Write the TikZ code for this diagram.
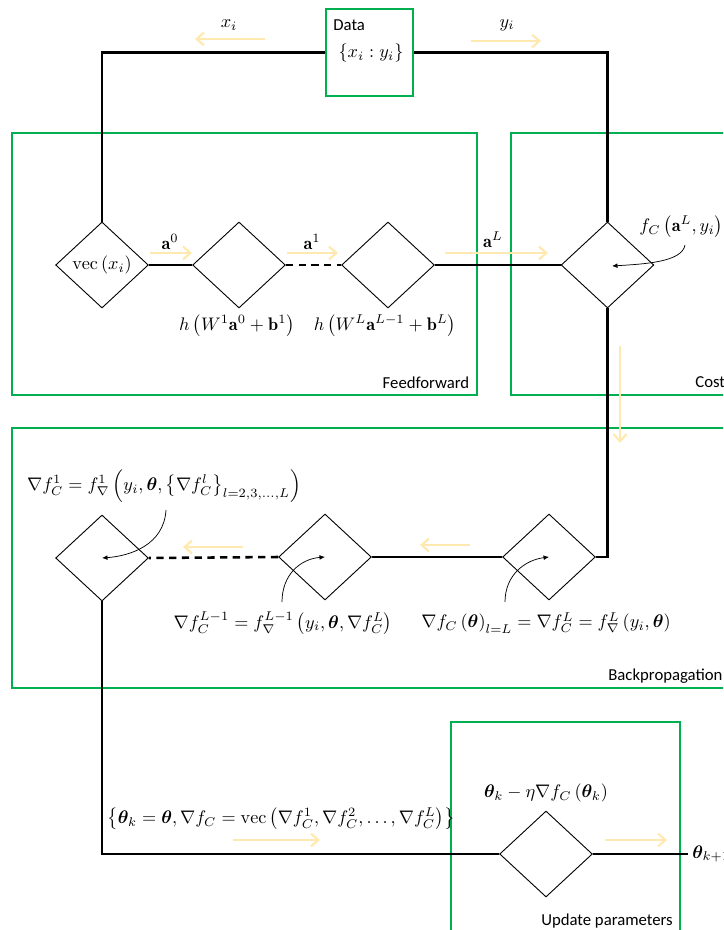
\documentclass[tikz,border=0pt]{standalone}
\usepackage{amsmath,bm}
\usepackage{fontspec}
\newfontfamily\labfont{Carlito}
\usetikzlibrary{shapes.geometric,arrows.meta}
\definecolor{grn}{HTML}{00B050}
\definecolor{ylw}{HTML}{FFE9B0}
\begin{document}
\begin{tikzpicture}[x=0.55pt,y=-0.55pt,
  grpbox/.style={draw=grn,line width=1.1pt},
  flow/.style={line width=1.4pt},
  flowdash/.style={line width=1.4pt,dash pattern=on 4pt off 3pt},
  dia/.style={draw,shape=diamond,minimum width=51pt,minimum height=47.3pt,inner sep=0pt,line width=0.5pt},
  hint/.style={draw=ylw,line width=1.2pt,-{Straight Barb[length=4pt,width=7pt]}},
  callout/.style={-{Latex[length=3pt,width=2.6pt]},line width=0.4pt},
  lbl/.style={font=\labfont\fontsize{9.2}{11}\selectfont,inner sep=0pt},
  mth/.style={inner sep=0pt}]
\useasboundingbox (0,0) rectangle (723,930);
\clip (0,0) rectangle (723,930);
% group frames
\draw[grpbox] (12,133) rectangle (477,395);
\draw[grpbox] (511,133) rectangle (740,395);
\draw[grpbox] (12,428) rectangle (740,688);
\draw[grpbox] (451,722) rectangle (680,945);
\node[lbl] (ffl) at (426,383) {Feedforward};
\node[lbl,anchor=west] (costl) at (695,382) {Cost};
\node[lbl,anchor=west] (bpl) at (608,676) {Backpropagation};
\node[lbl] (upl) at (607,921) {Update parameters};
% data
\node[draw=grn,line width=1.1pt,minimum width=47.8pt,minimum height=47.8pt,inner sep=0pt] (data) at (369.5,52.5) {};
\node[lbl,anchor=west] (datal) at (333,25) {Data};
\node[mth] (datat) at (371,53) {$\left\{x_i : y_i\right\}$};
% feedforward diamonds
\node[dia] (d0) at (102,265) {$\operatorname{vec}\left(x_i\right)$};
\node[dia] (d1) at (239,265) {};
\node[dia] (d2) at (388,265) {};
\node[dia] (dc) at (607.5,265) {};
% backprop diamonds
\node[dia] (b1) at (102,558) {};
\node[dia] (b2) at (325,557) {};
\node[dia] (b3) at (549,557) {};
% update
\node[dia] (u) at (546,854) {};
\coordinate (uend) at (688,854);
% flow lines
\draw[flow] (data.west) -| (d0.north);
\draw[flow] (data.east) -| (dc.north);
\draw[flow] (d0.east) -- (d1.west);
\draw[flowdash] (d1.east) -- (d2.west);
\draw[flow] (d2.east) -- (dc.west);
\draw[flow] (dc.south) |- (b3.east);
\draw[flow] (b3.west) -- (b2.east);
\draw[flowdash] (b2.west) -- (b1.east);
\draw[flow] (b1.south) |- (u.west);
\draw[flow] (u.east) -- (uend);
\node[mth,anchor=west] (thk1) at (692,854) {$\bm{\theta}_{k+1}$};
% yellow hint arrows
\draw[hint] (265,39) -- (195,39);
\draw[hint] (471,41) -- (541,41);
\draw[hint] (150,253) -- (192,253);
\draw[hint] (287,253) -- (338,253);
\draw[hint] (445,253) -- (548,253);
\draw[hint] (620,346) -- (620,443);
\draw[hint] (470,545) -- (420,545);
\draw[hint] (243,547) -- (183,547);
\draw[hint] (233,840) -- (320,840);
\draw[hint] (605,840) -- (667,840);
% labels
\node[mth] (xil) at (229,25) {$x_i$};
\node[mth] (yil) at (507,25) {$y_i$};
\node[mth] (a0l) at (170,242) {$\mathbf{a}^0$};
\node[mth] (a1l) at (312,242) {$\mathbf{a}^1$};
\node[mth] (aLl) at (493,240) {$\mathbf{a}^L$};
\node[mth] (h1l) at (237,326) {$h\,\bigl(W^1\mathbf{a}^0+\mathbf{b}^1\bigr)$};
\node[mth] (hLl) at (385,326) {$h\,\bigl(W^L\mathbf{a}^{L-1}+\mathbf{b}^L\bigr)$};
\node[mth,anchor=west] (fcl) at (639,227) {$f_C\,\bigl(\mathbf{a}^L,y_i\bigr)$};
\node[mth] (g1l) at (164,486) {$\nabla f_C^1 = f_{\nabla}^1\,\Bigl(y_i,\bm{\theta},\bigl\{\nabla f_C^l\bigr\}_{l=2,3,\ldots,L}\Bigr)$};
\node[mth] (gL1l) at (283,623) {$\nabla f_C^{L-1} = f_{\nabla}^{L-1}\,\bigl(y_i,\bm{\theta},\nabla f_C^L\bigr)$};
\node[mth] (gLl) at (546,623) {$\nabla f_C\left(\bm{\theta}\right)_{l=L} = \nabla f_C^L = f_{\nabla}^L\left(y_i,\bm{\theta}\right)$};
\node[mth] (updl) at (546,793) {$\bm{\theta}_k-\eta\nabla f_C\left(\bm{\theta}_k\right)$};
\node[mth] (setl) at (281,819) {$\bigl\{\bm{\theta}_k=\bm{\theta},\nabla f_C=\operatorname{vec}\,\bigl(\nabla f_C^1,\nabla f_C^2,\ldots,\nabla f_C^L\bigr)\bigr\}$};
% callouts
\coordinate (fcs) at (685,245);
\coordinate (fce) at (612,266);
\coordinate (g1s) at (166,510);
\coordinate (gL1s) at (282,602);
\coordinate (gLs) at (505,602);
\draw[callout] (fcs) .. controls (682,262) and (645,264) .. (fce);
\draw[callout] (g1s) .. controls (164,545) and (130,556) .. (b1.center);
\draw[callout] (gL1s) .. controls (282,575) and (300,559) .. (b2.center);
\draw[callout] (gLs) .. controls (505,575) and (525,560) .. (b3.center);
\end{tikzpicture}
\end{document}
